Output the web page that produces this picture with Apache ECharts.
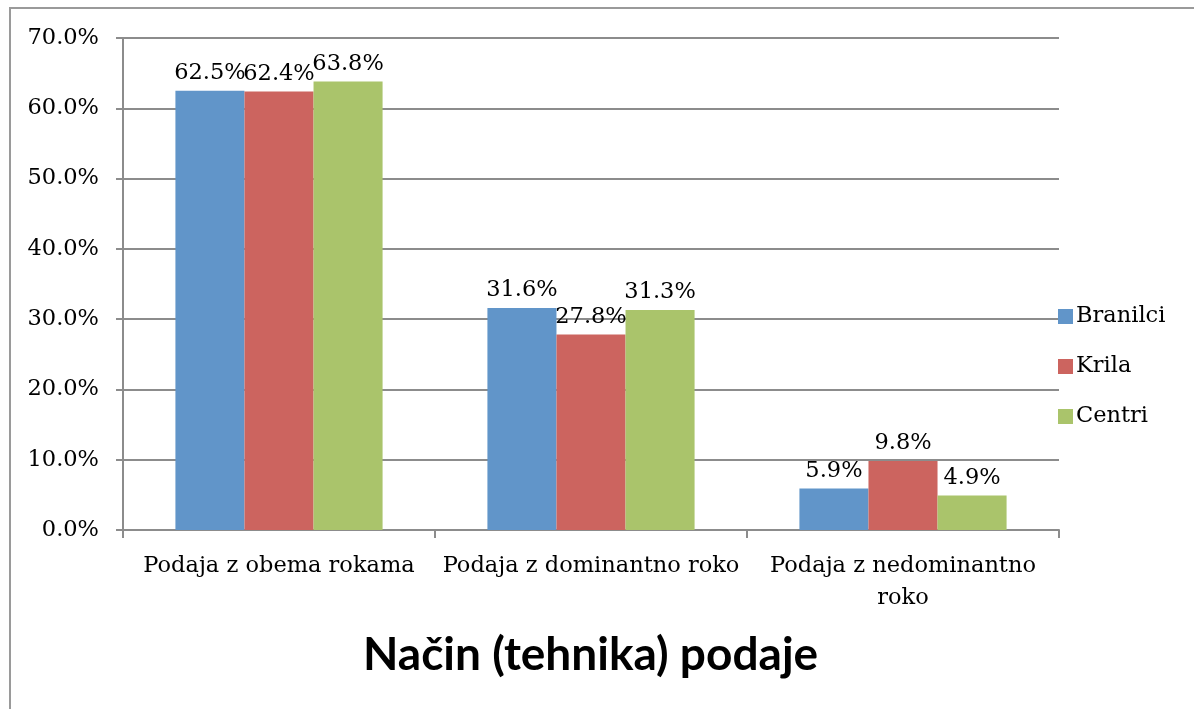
<!DOCTYPE html>
<html>
<head>
    <meta charset="utf-8">
    <title>Način (tehnika) podaje</title>
    <script type="text/javascript" src="https://cdn.jsdelivr.net/npm/echarts@6/dist/echarts.min.js"></script>
    <style>
        html, body { margin: 0; padding: 0; background: #fff; }
    </style>
</head>
<body>
    <div id="main" style="width: 1194px;height:709px;"></div>
    <script type="text/javascript">
        // podatki iz grafa
        var categories = ['Podaja z obema rokama', 'Podaja z dominantno roko', 'Podaja z nedominantno\nroko'];
        var seriesNames = ['Branilci', 'Krila', 'Centri'];
        var branilci = [62.5, 31.6, 5.9];
        var krila = [62.4, 27.8, 9.8];
        var centri = [63.8, 31.3, 4.9];
        var colors = ['#6195c9', '#cc645f', '#aac46b'];

        var serif = '"DejaVu Serif", "Liberation Serif", serif';
        var valueLists = [branilci, krila, centri];

        var chartDom = document.getElementById('main');
        var myChart = echarts.init(chartDom);

        var series = seriesNames.map(function (name, i) {
            return {
                name: name,
                type: 'bar',
                data: valueLists[i],
                barGap: 0,
                barCategoryGap: '33.6%',
                itemStyle: { color: colors[i] },
                label: {
                    show: true,
                    position: 'top',
                    distance: 6,
                    color: '#000',
                    fontFamily: serif,
                    fontSize: 22.5,
                    formatter: function (p) { return p.value.toFixed(1) + '%'; }
                }
            };
        });

        var option = {
            animation: false,
            color: colors,
            title: {
                text: 'Način (tehnika) podaje',
                left: 358,
                top: 627,
                textStyle: {
                    fontFamily: 'Lato, "Open Sans", sans-serif',
                    fontWeight: 'bold',
                    fontSize: 46,
                    color: '#000'
                }
            },
            legend: {
                orient: 'vertical',
                left: 1053,
                top: 300,
                itemWidth: 15,
                itemHeight: 15,
                itemGap: 27,
                icon: 'rect',
                data: seriesNames,
                textStyle: { fontFamily: serif, fontSize: 22.5, color: '#000', padding: [0, 0, 0, -2] }
            },
            grid: { left: 123, right: 135, top: 38, bottom: 179, containLabel: false },
            xAxis: {
                type: 'category',
                data: categories,
                axisLine: { lineStyle: { color: '#8c8c8c', width: 2 } },
                axisTick: { show: true, length: 8, lineStyle: { color: '#8c8c8c', width: 2 } },
                axisLabel: {
                    color: '#000',
                    fontFamily: serif,
                    fontSize: 22.5,
                    margin: 20,
                    lineHeight: 32,
                    interval: 0
                }
            },
            yAxis: {
                type: 'value',
                min: 0,
                max: 70,
                interval: 10,
                axisLine: { show: true, lineStyle: { color: '#8c8c8c', width: 2 } },
                axisTick: { show: true, length: 7, lineStyle: { color: '#8c8c8c', width: 2 } },
                splitLine: { lineStyle: { color: '#8c8c8c', width: 2 } },
                axisLabel: {
                    color: '#000',
                    fontFamily: serif,
                    fontSize: 22.5,
                    margin: 24,
                    formatter: function (v) { return v.toFixed(1) + '%'; }
                }
            },
            graphic: [{
                type: 'rect',
                shape: { x: 10, y: 8, width: 1300, height: 800 },
                style: { fill: null, stroke: '#9a9a9a', lineWidth: 2 },
                silent: true
            }],
            series: series
        };

        myChart.setOption(option);
    </script>
</body>
</html>
